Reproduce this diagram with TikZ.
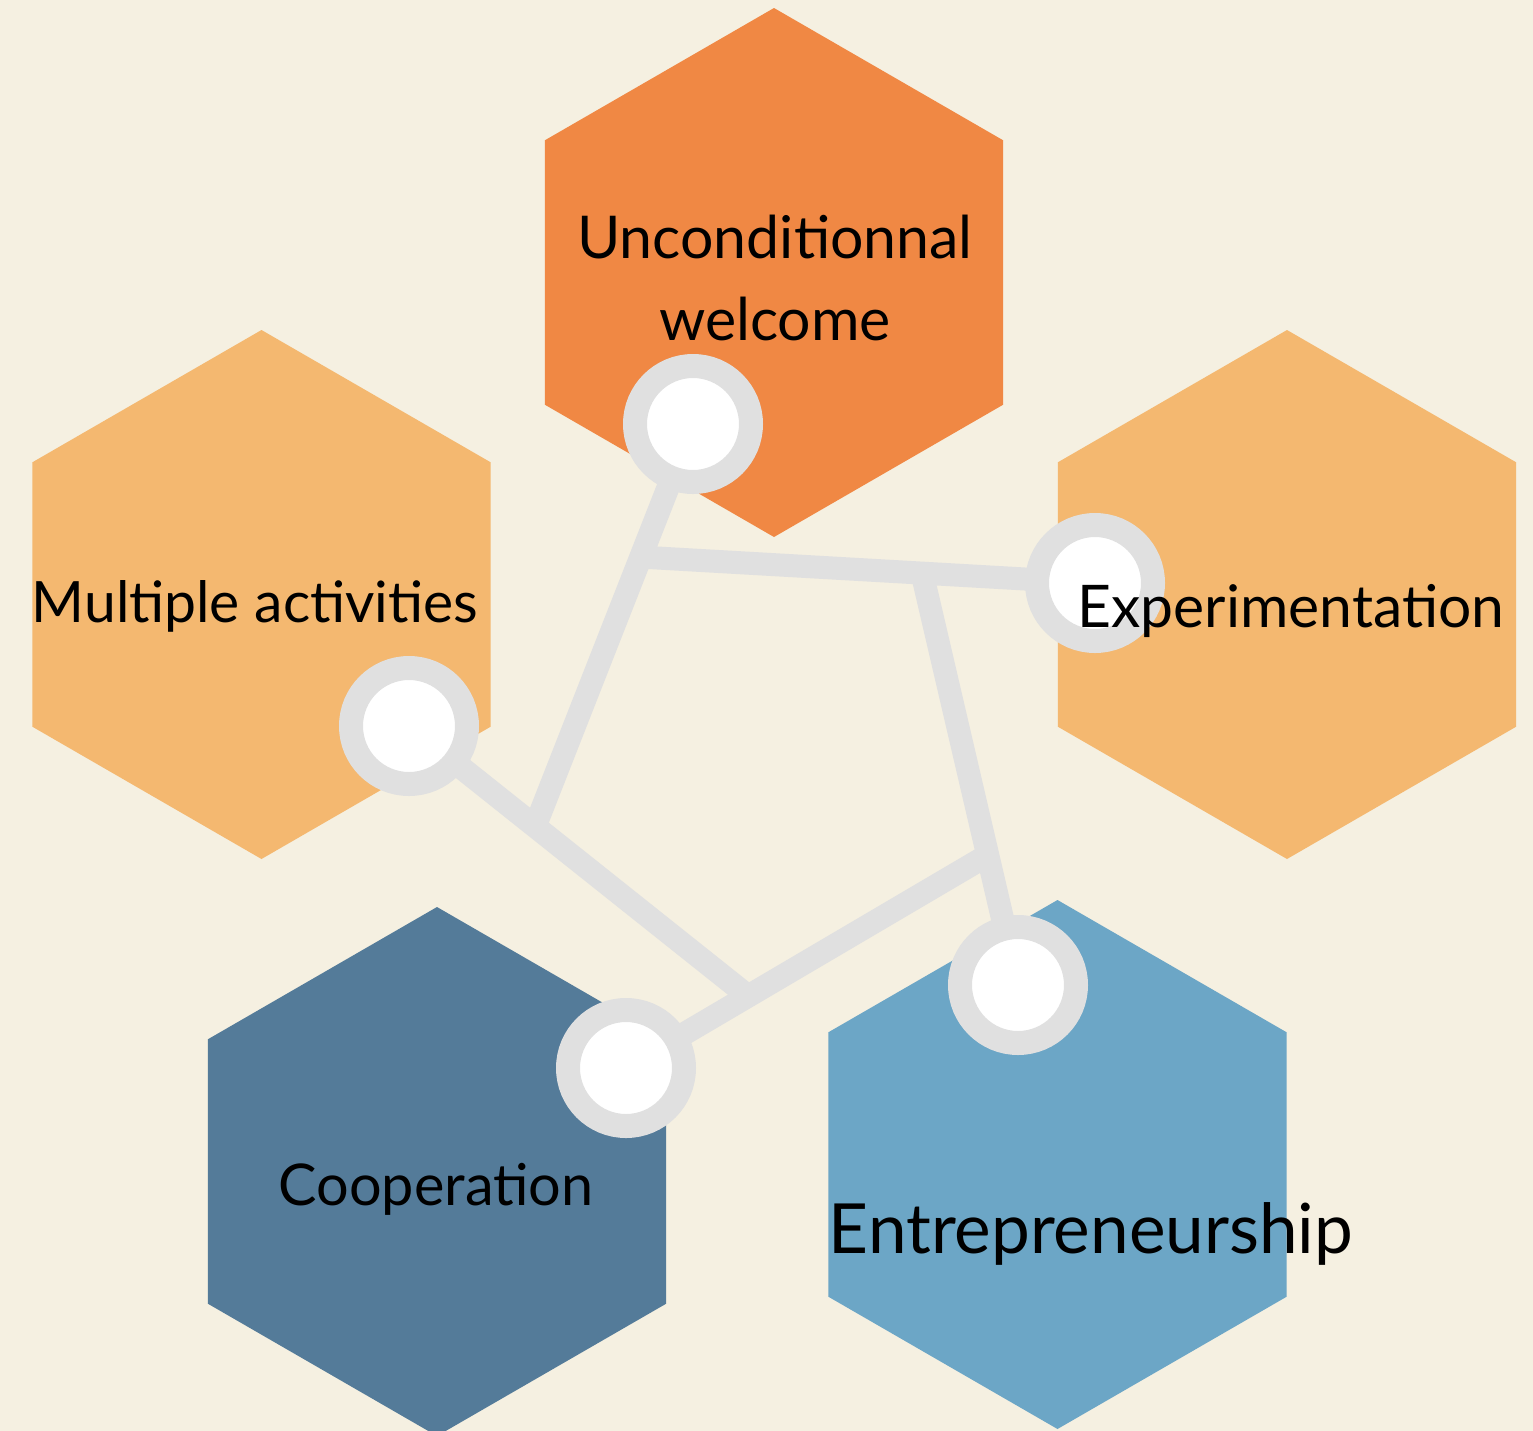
\documentclass[tikz,border=0pt]{standalone}
\usepackage{fontspec}
\setmainfont{Lato}
\usetikzlibrary{shapes.geometric}
\definecolor{bgcream}{HTML}{F5F0E1}
\definecolor{hexorange}{HTML}{F08844}
\definecolor{hexlight}{HTML}{F4B870}
\definecolor{hexdark}{HTML}{547B99}
\definecolor{hexblue}{HTML}{6CA6C6}
\definecolor{linkgrey}{HTML}{E0E0E0}
\tikzset{
  hexa/.style={regular polygon, regular polygon sides=6, shape border rotate=30,
    minimum size=264.5pt, inner sep=0pt, draw=none, fill=#1},
  link/.style={draw=linkgrey, line width=11.5pt},
  dot/.style={circle, draw=linkgrey, line width=12pt, fill=white, minimum size=58pt, inner sep=0pt},
  label/.style={anchor=base, inner sep=0pt, text=black},
}
\begin{document}
\begin{tikzpicture}[x=0.5pt, y=-0.5pt]
\fill[bgcream] (0,0) rectangle (1533,1431);
\useasboundingbox (0,0) rectangle (1533,1431);
% hexagons
\node[hexa=hexorange] (hwel) at (774,272.5) {};
\node[hexa=hexlight] (hmul) at (261.5,594.5) {};
\node[hexa=hexlight] (hexp) at (1287,594.5) {};
\node[hexa=hexdark] (hcoo) at (437,1171.5) {};
\node[hexa=hexblue] (hent) at (1057.5,1164.5) {};
% circle centres and junctions
\coordinate (pwel) at (693,424);
\coordinate (pexp) at (1095,583);
\coordinate (pent) at (1018,985);
\coordinate (pcoo) at (626,1068);
\coordinate (pmul) at (409,726);
\coordinate (jA) at (536,824);
\coordinate (jB) at (640,557);
\coordinate (jC) at (922,573);
\coordinate (jE) at (988,855);
\coordinate (jD) at (748,996);
% connectors
\draw[link] (pwel) -- (jA);
\draw[link] (pexp) -- (jB);
\draw[link] (pent) -- (jC);
\draw[link] (pcoo) -- (jE);
\draw[link] (pmul) -- (jD);
% circles
\node[dot] (cwel) at (pwel) {};
\node[dot] (cexp) at (pexp) {};
\node[dot] (cent) at (pent) {};
\node[dot] (ccoo) at (pcoo) {};
\node[dot] (cmul) at (pmul) {};
% labels
\node[label, align=center, font=\fontsize{29.5pt}{41pt}\selectfont] (twel) at (775,340) {Unconditionnal\\welcome};
\node[label, font=\fontsize{28.5pt}{34pt}\selectfont] (tmul) at (255,622) {Multiple activities};
\node[label, font=\fontsize{29.4pt}{35pt}\selectfont] (texp) at (1291,627) {Experimentation};
\node[label, font=\fontsize{28.8pt}{34pt}\selectfont] (tcoo) at (436,1205) {Cooperation};
\node[label, font=\fontsize{34.6pt}{40pt}\selectfont] (tent) at (1091,1253) {Entrepreneurship};
\end{tikzpicture}
\end{document}
